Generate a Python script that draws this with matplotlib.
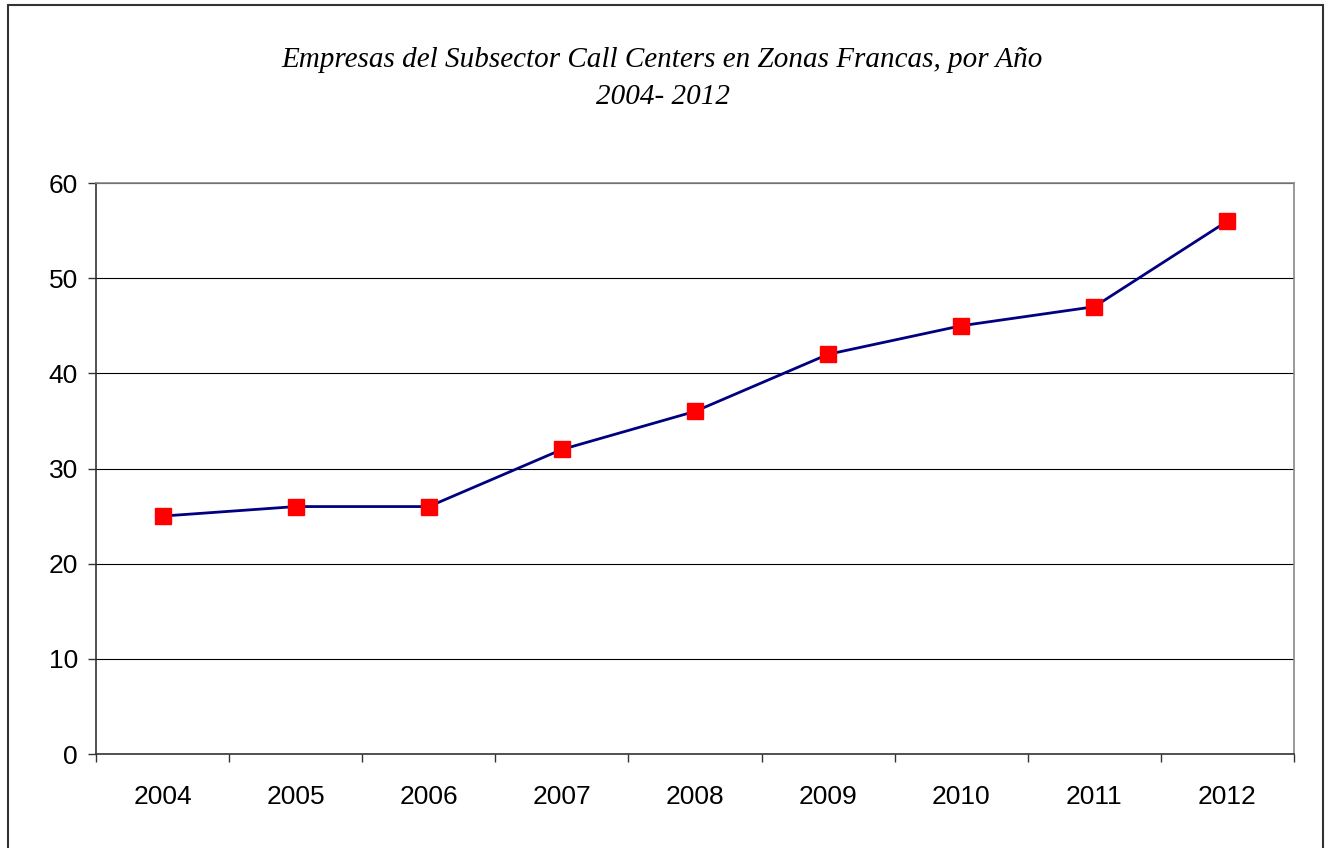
import matplotlib
matplotlib.use("Agg")
import matplotlib.pyplot as plt
from matplotlib.patches import Rectangle

years = ["2004", "2005", "2006", "2007", "2008", "2009", "2010", "2011", "2012"]
empresas = [25, 26, 26, 32, 36, 42, 45, 47, 56]
y_ticks = [0, 10, 20, 30, 40, 50, 60]
title_line1 = "Empresas del Subsector Call Centers en Zonas Francas, por Año"
title_line2 = "2004- 2012"

W, H = 1325, 848
fig = plt.figure(figsize=(W / 100, H / 100), dpi=100)
fig.patch.set_facecolor("white")

# outer chart border
fig.patches.append(Rectangle((8 / W, -0.01), (1323 - 8) / W, (H - 5) / H + 0.01,
                             transform=fig.transFigure, fill=False,
                             edgecolor="#333333", linewidth=1.5))

left, right, top, bottom = 96, 1294, 183, 754
ax = fig.add_axes([left / W, (H - bottom) / H, (right - left) / W, (bottom - top) / H])

x = list(range(len(years)))
ax.plot(x, empresas, color="#000080", linewidth=2.0, marker="s", markersize=11,
        markerfacecolor="#ff0000", markeredgecolor="#ff0000", zorder=3, clip_on=False)

ax.set_xlim(-0.5, len(years) - 0.5)
ax.set_ylim(0, 60)
ax.set_yticks(y_ticks)
ax.yaxis.grid(True, color="#000000", linewidth=0.8)
ax.set_axisbelow(True)

ax.set_xticks(x)
ax.set_xticklabels(years, fontfamily="Liberation Sans", fontsize=19)
ax.tick_params(axis="x", which="major", length=0, pad=22)
ax.set_xticks([i - 0.5 for i in range(len(years) + 1)], minor=True)
ax.tick_params(axis="x", which="minor", length=6, width=1, color="#333333", direction="out")
ax.tick_params(axis="y", length=6, width=1, color="#333333", direction="out", pad=7)
for lab in ax.get_yticklabels():
    lab.set_fontfamily("Liberation Sans")
    lab.set_fontsize(19)

ax.spines["left"].set_color("#333333")
ax.spines["bottom"].set_color("#333333")
ax.spines["top"].set_color("#888888")
ax.spines["right"].set_color("#888888")
for s in ax.spines.values():
    s.set_linewidth(1.2)

fig.text(0.5, 1 - 60 / H, title_line1, ha="center", va="center",
         fontfamily="Liberation Serif", fontstyle="italic", fontsize=21)
fig.text(0.5, 1 - 97 / H, title_line2, ha="center", va="center",
         fontfamily="Liberation Serif", fontstyle="italic", fontsize=21)

fig.savefig("out.png", dpi=100, facecolor="white")
